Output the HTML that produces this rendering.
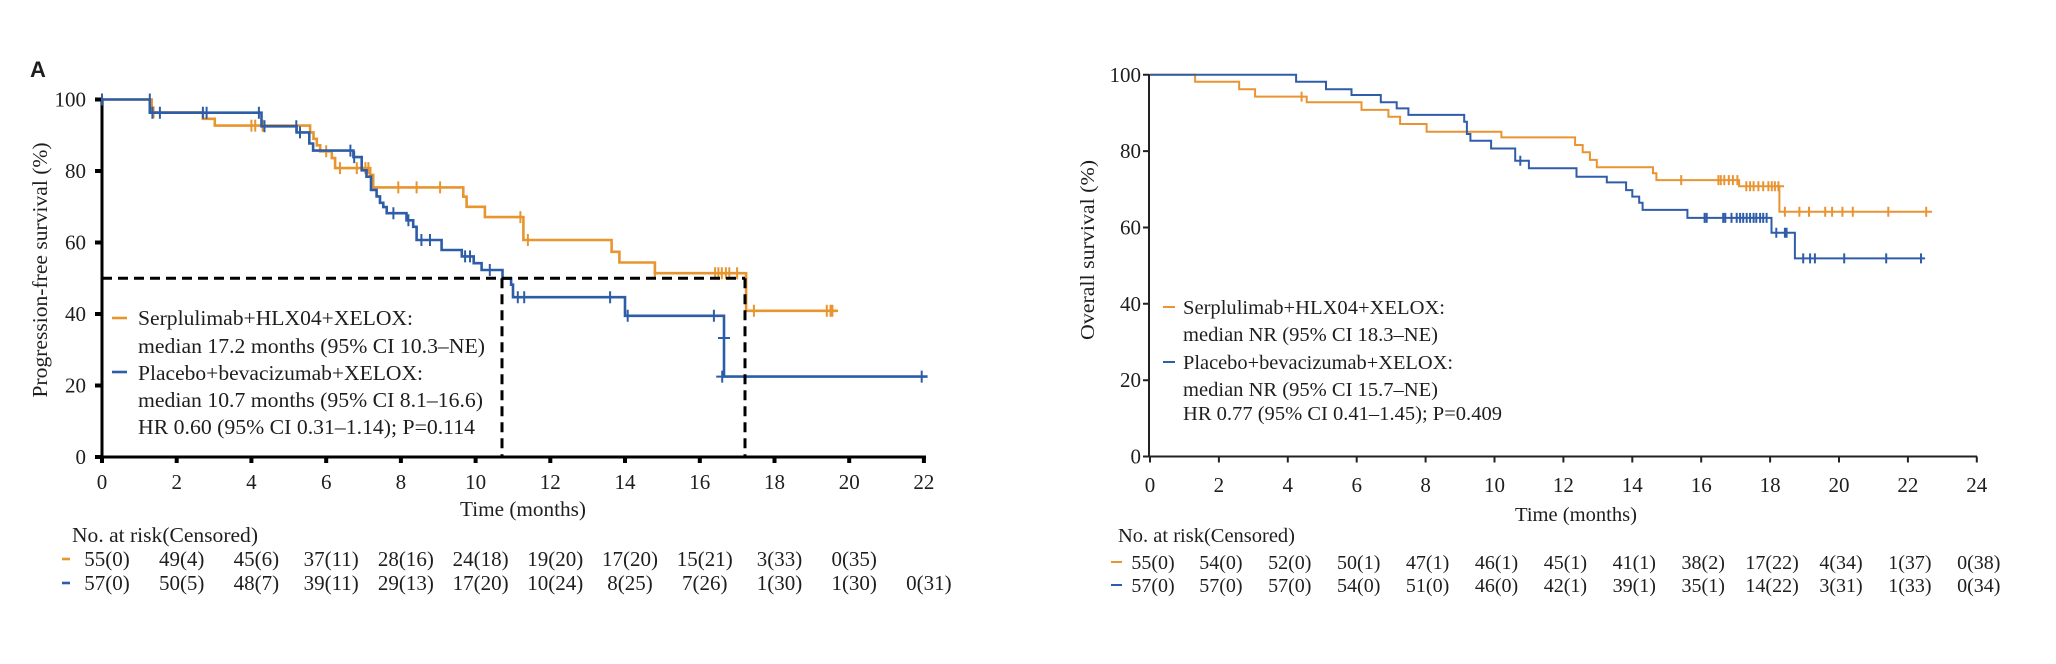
<!DOCTYPE html>
<html><head><meta charset="utf-8">
<style>
html,body{margin:0;padding:0;background:#fff;}
svg{display:block;}
text{font-family:"Liberation Serif",serif;fill:#1e1e1e;}
</style></head>
<body>
<svg width="2056" height="664" viewBox="0 0 2056 664" xmlns="http://www.w3.org/2000/svg">
<rect width="2056" height="664" fill="#fff"/>

<!-- ================= LEFT CHART ================= -->
<text x="30" y="77" style="font-family:'Liberation Sans',sans-serif;font-weight:bold;font-size:22px;">A</text>

<!-- axes -->
<g stroke="#000" stroke-width="3" fill="none">
<path d="M102,98 V457 M96,457 H926"/>
<path d="M95,99.5H102 M95,171H102 M95,242.5H102 M95,314H102 M95,385.5H102 M95,457H102" stroke-width="4"/>
<path d="M102,457v6 M176.7,457v6 M251.4,457v6 M326.2,457v6 M400.9,457v6 M475.6,457v6 M550.3,457v6 M625,457v6 M699.8,457v6 M774.5,457v6 M849.2,457v6 M923.9,457v6" stroke-width="4"/>
</g>

<!-- y tick labels -->
<g font-size="21" text-anchor="end">
<text x="86" y="106.5">100</text>
<text x="86" y="178">80</text>
<text x="86" y="249.5">60</text>
<text x="86" y="321">40</text>
<text x="86" y="392.5">20</text>
<text x="86" y="464">0</text>
</g>
<!-- x tick labels -->
<g font-size="21" text-anchor="middle">
<text x="102" y="489">0</text>
<text x="176.7" y="489">2</text>
<text x="251.4" y="489">4</text>
<text x="326.2" y="489">6</text>
<text x="400.9" y="489">8</text>
<text x="475.6" y="489">10</text>
<text x="550.3" y="489">12</text>
<text x="625" y="489">14</text>
<text x="699.8" y="489">16</text>
<text x="774.5" y="489">18</text>
<text x="849.2" y="489">20</text>
<text x="923.9" y="489">22</text>
</g>
<text x="523" y="516" font-size="21" text-anchor="middle" textLength="126" lengthAdjust="spacingAndGlyphs">Time (months)</text>
<text transform="translate(47,270) rotate(-90)" font-size="21" text-anchor="middle" textLength="255" lengthAdjust="spacingAndGlyphs">Progression-free survival (%)</text>

<!-- curves -->
<g fill="none" stroke-width="2.6">
<path stroke="#E8952F" d="M102,99.5 H151.7 V112.4 H202.9 V118.8 H214.8 V125.6 H310.1 V132.4 H313.5 V138.8 H316.8 V145.3 H320.2 V151.3 H331.8 V158.1 H335.1 V168.1 H370.2 V174.9 H373.2 V187.4 H463.3 V196.7 H466.6 V206.8 H484.9 V217.1 H523.4 V240 H611.6 V251.8 H619.4 V262.5 H654.9 V273.2 H746.1 V310.8 H838"/>
<path stroke="#E8952F" stroke-width="2" d="M153.6,106.4v12M148.6,112.4h10 M251.4,119.6v12 M255.2,119.6v12 M262.6,119.6v12 M326.2,145.3v12 M340,162.1v12 M356.8,162.1v12 M365.4,162.1v12 M368.4,162.1v12 M398.3,181.4v12 M416.6,181.4v12 M440.1,181.4v12 M520.4,211.1v12 M527.9,234v12 M654.9,267.2v12 M715.1,267.2v12 M718.4,267.2v12 M721.8,267.2v12 M725.9,267.2v12 M729.3,267.2v12 M737.1,267.2v12 M753.9,304.8v12 M826.8,304.8v12 M830.5,304.8v12 M832.4,304.8v12"/>
<path stroke="#2E5DA8" d="M102,99.5 H149.8 V112.7 H261.5 V126.3 H296.6 V132.4 H309.3 V143.5 H313.1 V150.6 H353.4 V157.1 H361.7 V170.3 H366.5 V176.7 H371 V189.9 H376.6 V196.4 H380 V202.8 H383.3 V207.1 H386.7 V213.2 H406.5 V220.3 H413.2 V226.8 H416.6 V240 H441.6 V250 H461.8 V256.4 H473.7 V263.2 H481.6 V270 H502.5 V278.6 H511.1 V284.7 H513 V297.2 H625 V315.8 H724 V376.6 H927.6"/>
<path stroke="#2E5DA8" stroke-width="2" d="M102,93.5v12 M149.8,93.5v12 M152.4,106.7v12 M159.9,106.7v12 M202.9,106.7v12 M206.6,106.7v12 M258.9,106.7v12 M264.5,120.3v12 M296.3,120.3v12 M300,126.4v12 M350.4,144.6v12 M354.2,151.1v12 M393.4,207.2v12 M408.4,214.3v12 M421.4,234v12 M430,234v12 M465.1,250.4v12 M470,250.4v12 M489.8,264v12 M517.8,291.2v12 M524.2,291.2v12 M610.1,291.2v12 M627.7,309.8v12 M713.9,309.8v12 M722.2,370.6v12M716.2,376.6h12 M718,338h12 M921.7,370.6v12"/>
</g>

<!-- median dashed lines -->
<g stroke="#000" stroke-width="3" fill="none" stroke-dasharray="10 6">
<path d="M102,278.2 H745"/>
<path d="M502,278.2 V457"/>
<path d="M745,278.2 V457"/>
</g>

<!-- legend -->
<line x1="112" y1="318" x2="127" y2="318" stroke="#E8952F" stroke-width="2.6"/>
<line x1="112" y1="372" x2="127" y2="372" stroke="#2E5DA8" stroke-width="2.6"/>
<g font-size="21">
<text x="138" y="325" textLength="275" lengthAdjust="spacingAndGlyphs">Serplulimab+HLX04+XELOX:</text>
<text x="138" y="353" textLength="347" lengthAdjust="spacingAndGlyphs">median 17.2 months (95% CI 10.3–NE)</text>
<text x="138" y="380" textLength="285" lengthAdjust="spacingAndGlyphs">Placebo+bevacizumab+XELOX:</text>
<text x="138" y="407" textLength="345" lengthAdjust="spacingAndGlyphs">median 10.7 months (95% CI 8.1–16.6)</text>
<text x="138" y="434" textLength="337" lengthAdjust="spacingAndGlyphs">HR 0.60 (95% CI 0.31–1.14); P=0.114</text>
</g>

<!-- at risk table -->
<text x="72" y="542" font-size="21" textLength="186" lengthAdjust="spacingAndGlyphs">No. at risk(Censored)</text>
<line x1="62" y1="559" x2="70" y2="559" stroke="#E8952F" stroke-width="2.6"/>
<line x1="62" y1="583" x2="70" y2="583" stroke="#2E5DA8" stroke-width="2.6"/>
<g font-size="21" text-anchor="middle">
<text x="107" y="566">55(0)</text>
<text x="181.7" y="566">49(4)</text>
<text x="256.4" y="566">45(6)</text>
<text x="331.2" y="566">37(11)</text>
<text x="405.9" y="566">28(16)</text>
<text x="480.6" y="566">24(18)</text>
<text x="555.3" y="566">19(20)</text>
<text x="630" y="566">17(20)</text>
<text x="704.8" y="566">15(21)</text>
<text x="779.5" y="566">3(33)</text>
<text x="854.2" y="566">0(35)</text>

<text x="107" y="590">57(0)</text>
<text x="181.7" y="590">50(5)</text>
<text x="256.4" y="590">48(7)</text>
<text x="331.2" y="590">39(11)</text>
<text x="405.9" y="590">29(13)</text>
<text x="480.6" y="590">17(20)</text>
<text x="555.3" y="590">10(24)</text>
<text x="630" y="590">8(25)</text>
<text x="704.8" y="590">7(26)</text>
<text x="779.5" y="590">1(30)</text>
<text x="854.2" y="590">1(30)</text>
<text x="928.9" y="590">0(31)</text>
</g>

<!-- ================= RIGHT CHART ================= -->
<g stroke="#222" stroke-width="2" fill="none">
<path d="M1149,74 V456.5 M1149,456.5 H1977"/>
<path d="M1143,74.8H1149 M1143,151.1H1149 M1143,227.5H1149 M1143,303.8H1149 M1143,380.2H1149 M1143,456.5H1149"/>
<path d="M1150,456.5v6 M1218.9,456.5v6 M1287.8,456.5v6 M1356.7,456.5v6 M1425.6,456.5v6 M1494.5,456.5v6 M1563.4,456.5v6 M1632.3,456.5v6 M1701.2,456.5v6 M1770.1,456.5v6 M1839,456.5v6 M1907.9,456.5v6 M1976.8,456.5v6"/>
</g>
<g font-size="21" text-anchor="end">
<text x="1141" y="81.8">100</text>
<text x="1141" y="158.1">80</text>
<text x="1141" y="234.5">60</text>
<text x="1141" y="310.8">40</text>
<text x="1141" y="387.2">20</text>
<text x="1141" y="463.5">0</text>
</g>
<g font-size="21" text-anchor="middle">
<text x="1150" y="492">0</text>
<text x="1218.9" y="492">2</text>
<text x="1287.8" y="492">4</text>
<text x="1356.7" y="492">6</text>
<text x="1425.6" y="492">8</text>
<text x="1494.5" y="492">10</text>
<text x="1563.4" y="492">12</text>
<text x="1632.3" y="492">14</text>
<text x="1701.2" y="492">16</text>
<text x="1770.1" y="492">18</text>
<text x="1839" y="492">20</text>
<text x="1907.9" y="492">22</text>
<text x="1976.8" y="492">24</text>
</g>
<text x="1576" y="521" font-size="20" text-anchor="middle" textLength="122" lengthAdjust="spacingAndGlyphs">Time (months)</text>
<text transform="translate(1094,250) rotate(-90)" font-size="20" text-anchor="middle" textLength="180" lengthAdjust="spacingAndGlyphs">Overall survival (%)</text>

<g fill="none" stroke-width="2">
<path stroke="#E99433" d="M1150,74.8 H1195.1 V81.7 H1239.2 V89.3 H1255.1 V96.6 H1306.7 V102.3 H1361.5 V109.9 H1388.4 V116.8 H1400.1 V124 H1426.6 V131.7 H1501.4 V137.4 H1575.1 V145 H1582.7 V152.3 H1589.9 V159.9 H1596.8 V167.2 H1653 V173.3 H1656.4 V180.1 H1739.1 V186.3 H1779.4 V211.8 H1932"/>
<path stroke="#E99433" d="M1301.6,91.6v10 M1681.2,175.1v10 M1718.4,175.1v10 M1720.8,175.1v10 M1724.3,175.1v10 M1728.8,175.1v10 M1732.9,175.1v10 M1737.4,175.1v10 M1746.3,181.3v10 M1750.1,181.3v10 M1753.6,181.3v10 M1758.4,181.3v10 M1763.2,181.3v10 M1768.4,181.3v10 M1771.8,181.3v10 M1774.9,181.3v10 M1778.4,181.3v10M1774,186.3h10 M1784.9,206.8v10 M1799.4,206.8v10 M1809,206.8v10 M1825.2,206.8v10 M1832.1,206.8v10 M1842.4,206.8v10 M1852.8,206.8v10 M1888.3,206.8v10 M1926.2,206.8v10"/>
<path stroke="#2F5DAA" d="M1150,74.8 H1296.1 V81.7 H1326 V89.3 H1351.5 V95 H1380.8 V102.3 H1396.7 V108.4 H1408.4 V114.9 H1464.2 V121.7 H1466.9 V134 H1470.4 V140.8 H1491.1 V148.5 H1515.2 V160.7 H1528.9 V168.3 H1576.5 V176.7 H1606.8 V182.4 H1626.1 V190.1 H1632.3 V196.6 H1639.2 V202.7 H1642.6 V209.9 H1687.4 V217.9 H1771.5 V232.8 H1794.9 V258.4 H1925.1"/>
<path stroke="#2F5DAA" d="M1520.3,155.7v10 M1704.6,212.9v10 M1706.7,212.9v10 M1723.2,212.9v10 M1725.3,212.9v10 M1731.5,212.9v10 M1736.7,212.9v10 M1740.1,212.9v10 M1743.2,212.9v10 M1746.7,212.9v10 M1750.1,212.9v10 M1753.6,212.9v10 M1756.3,212.9v10 M1760.1,212.9v10 M1763.2,212.9v10 M1766.6,212.9v10 M1776.3,227.8v10 M1784.9,227.8v10 M1786.6,227.8v10 M1803.2,253.4v10 M1810.1,253.4v10 M1814.9,253.4v10 M1844.2,253.4v10 M1886.2,253.4v10 M1921,253.4v10"/>
</g>

<line x1="1163" y1="307" x2="1175" y2="307" stroke="#E99433" stroke-width="2"/>
<line x1="1163" y1="362" x2="1175" y2="362" stroke="#2F5DAA" stroke-width="2"/>
<g font-size="20">
<text x="1183" y="314" textLength="262" lengthAdjust="spacingAndGlyphs">Serplulimab+HLX04+XELOX:</text>
<text x="1183" y="341" textLength="255" lengthAdjust="spacingAndGlyphs">median NR (95% CI 18.3–NE)</text>
<text x="1183" y="369" textLength="270" lengthAdjust="spacingAndGlyphs">Placebo+bevacizumab+XELOX:</text>
<text x="1183" y="396" textLength="255" lengthAdjust="spacingAndGlyphs">median NR (95% CI 15.7–NE)</text>
<text x="1183" y="420" textLength="319" lengthAdjust="spacingAndGlyphs">HR 0.77 (95% CI 0.41–1.45); P=0.409</text>
</g>

<text x="1118" y="542" font-size="20" textLength="177" lengthAdjust="spacingAndGlyphs">No. at risk(Censored)</text>
<line x1="1111" y1="562" x2="1122" y2="562" stroke="#E99433" stroke-width="2"/>
<line x1="1111" y1="585" x2="1122" y2="585" stroke="#2F5DAA" stroke-width="2"/>
<g font-size="20" text-anchor="middle">
<text x="1153" y="569">55(0)</text>
<text x="1220.9" y="569">54(0)</text>
<text x="1289.8" y="569">52(0)</text>
<text x="1358.7" y="569">50(1)</text>
<text x="1427.6" y="569">47(1)</text>
<text x="1496.5" y="569">46(1)</text>
<text x="1565.4" y="569">45(1)</text>
<text x="1634.3" y="569">41(1)</text>
<text x="1703.2" y="569">38(2)</text>
<text x="1772.1" y="569">17(22)</text>
<text x="1841" y="569">4(34)</text>
<text x="1909.9" y="569">1(37)</text>
<text x="1978.8" y="569">0(38)</text>

<text x="1153" y="592">57(0)</text>
<text x="1220.9" y="592">57(0)</text>
<text x="1289.8" y="592">57(0)</text>
<text x="1358.7" y="592">54(0)</text>
<text x="1427.6" y="592">51(0)</text>
<text x="1496.5" y="592">46(0)</text>
<text x="1565.4" y="592">42(1)</text>
<text x="1634.3" y="592">39(1)</text>
<text x="1703.2" y="592">35(1)</text>
<text x="1772.1" y="592">14(22)</text>
<text x="1841" y="592">3(31)</text>
<text x="1909.9" y="592">1(33)</text>
<text x="1978.8" y="592">0(34)</text>
</g>
</svg>
</body></html>
